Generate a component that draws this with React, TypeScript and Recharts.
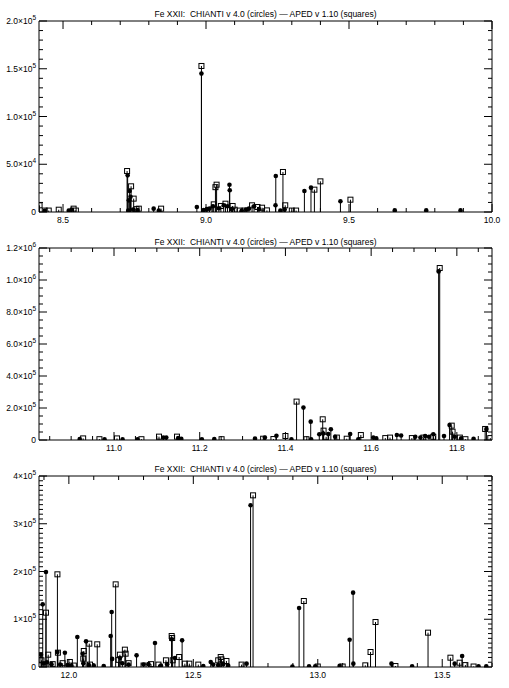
import React from 'react';
import { ScatterChart, Scatter, XAxis, YAxis, ErrorBar } from 'recharts';

const FONT = '"Liberation Sans", Arial, Helvetica, sans-serif';
const TITLE = 'Fe XXII:  CHIANTI v 4.0 (circles) — APED v 1.10 (squares)';

// ---------- Panel 1 (8.42 - 10.0 Å) ----------
const p1ChiantiWave = [8.436, 8.52, 8.53, 8.726, 8.728, 8.73, 8.733, 8.736, 8.745, 8.76, 8.817, 8.835, 8.968, 8.984, 8.992, 9.003, 9.012, 9.024, 9.045, 9.062, 9.075, 9.082, 9.083, 9.09, 9.125, 9.14, 9.15, 9.168, 9.185, 9.244, 9.243, 9.26, 9.275, 9.344, 9.367, 9.47, 9.66, 9.77, 9.89];
const p1ChiantiFlux = [1200, 1500, 2500, 38400, 1500, 12200, 22000, 16000, 2500, 2000, 3500, 1500, 5200, 144900, 2000, 3000, 3500, 6000, 4000, 7000, 6000, 28600, 22700, 3000, 1500, 2500, 3500, 6000, 3000, 37700, 7000, 1500, 2500, 22000, 25500, 11200, 1700, 1700, 1700];
const p1ApedWave = [8.418, 8.436, 8.45, 8.485, 8.537, 8.545, 8.724, 8.738, 8.747, 8.757, 8.765, 8.843, 8.984, 9.012, 9.027, 9.033, 9.037, 9.052, 9.068, 9.093, 9.1, 9.118, 9.135, 9.161, 9.18, 9.196, 9.213, 9.269, 9.277, 9.3, 9.315, 9.379, 9.4, 9.505];
const p1ApedFlux = [7000, 1500, 1500, 2400, 3500, 1500, 42900, 26900, 14000, 3000, 3500, 3500, 152900, 2000, 8000, 26000, 28600, 6300, 8700, 6300, 2400, 1500, 1500, 7000, 5200, 4500, 1700, 41900, 7000, 1500, 1500, 23400, 32100, 12900];
const p1XDomain = [8.416, 10.0];
const p1XMajor = [8.5, 9.0, 9.5, 10.0];
const p1XLabels = ['8.5', '9.0', '9.5', '10.0'];
const p1XTicks = [8.5, 8.6, 8.7, 8.8, 8.9, 9.0, 9.1, 9.2, 9.3, 9.4, 9.5, 9.6, 9.7, 9.8, 9.9, 10.0];
const p1YDomain = [0, 200000];
const p1YMajor = [0, 50000, 100000, 150000, 200000];
const p1YLabels = ['0', '5.0×10^4', '1.0×10^5', '1.5×10^5', '2.0×10^5'];
const p1YTicks = [0, 10000, 20000, 30000, 40000, 50000, 60000, 70000, 80000, 90000, 100000, 110000, 120000, 130000, 140000, 150000, 160000, 170000, 180000, 190000, 200000];

// ---------- Panel 2 (10.83 - 11.88 Å) ----------
const p2ChiantiWave = [10.92, 10.978, 11.02, 11.055, 11.115, 11.122, 11.15, 11.157, 11.205, 11.234, 11.329, 11.352, 11.379, 11.414, 11.442, 11.459, 11.46, 11.479, 11.488, 11.5, 11.506, 11.516, 11.551, 11.57, 11.605, 11.612, 11.66, 11.67, 11.703, 11.715, 11.726, 11.735, 11.745, 11.7575, 11.77, 11.783, 11.795, 11.81, 11.839, 11.869];
const p2ChiantiFlux = [6000, 5000, 5000, 4000, 15000, 15000, 12000, 8000, 4000, 6000, 9000, 15000, 27000, 5000, 202400, 114800, 4000, 35500, 40000, 37600, 66800, 20000, 37600, 5000, 15000, 10000, 31000, 28000, 20000, 15000, 25000, 20000, 35500, 1053900, 25000, 93900, 20000, 10000, 8000, 68900];
const p2ApedWave = [10.928, 10.966, 11.007, 11.064, 11.105, 11.147, 11.251, 11.348, 11.372, 11.4, 11.426, 11.449, 11.487, 11.489, 11.495, 11.52, 11.543, 11.576, 11.633, 11.644, 11.695, 11.722, 11.745, 11.76, 11.788, 11.79, 11.807, 11.82, 11.866, 11.878];
const p2ApedFlux = [10000, 5000, 10000, 5000, 21000, 21000, 5000, 8000, 6000, 25000, 240000, 5000, 129400, 58400, 20000, 15000, 8000, 31000, 12000, 15000, 12000, 15000, 20000, 1074800, 89700, 52000, 15000, 5000, 68900, 12000];
const p2XDomain = [10.825, 11.882];
const p2XMajor = [11.0, 11.2, 11.4, 11.6, 11.8];
const p2XLabels = ['11.0', '11.2', '11.4', '11.6', '11.8'];
const p2XTicks = [10.85, 10.9, 10.95, 11.0, 11.05, 11.1, 11.15, 11.2, 11.25, 11.3, 11.35, 11.4, 11.45, 11.5, 11.55, 11.6, 11.65, 11.7, 11.75, 11.8, 11.85];
const p2YDomain = [0, 1200000];
const p2YMajor = [0, 200000, 400000, 600000, 800000, 1000000, 1200000];
const p2YLabels = ['0', '2.0×10^5', '4.0×10^5', '6.0×10^5', '8.0×10^5', '1.0×10^6', '1.2×10^6'];
const p2YTicks = [0, 50000, 100000, 150000, 200000, 250000, 300000, 350000, 400000, 450000, 500000, 550000, 600000, 650000, 700000, 750000, 800000, 850000, 900000, 950000, 1000000, 1050000, 1100000, 1150000, 1200000];

// ---------- Panel 3 (11.88 - 13.70 Å) ----------
const p3ChiantiWave = [11.888, 11.895, 11.9, 11.908, 11.912, 11.93, 11.954, 11.965, 11.984, 11.995, 12.01, 12.034, 12.055, 12.058, 12.069, 12.08, 12.1, 12.14, 12.168, 12.172, 12.174, 12.205, 12.215, 12.24, 12.272, 12.3, 12.32, 12.346, 12.37, 12.395, 12.413, 12.426, 12.455, 12.54, 12.57, 12.58, 12.6, 12.62, 12.64, 12.714, 12.73, 12.898, 12.925, 12.965, 12.99, 13.088, 13.128, 13.142, 13.143, 13.296, 13.379, 13.55, 13.58, 13.646, 13.677];
const p3ChiantiFlux = [25800, 131200, 8000, 198900, 10000, 6000, 31400, 5000, 30000, 4000, 3000, 62800, 27900, 8000, 53700, 4000, 3000, 2000, 64900, 115200, 17000, 18800, 8000, 5000, 24400, 5000, 6000, 50300, 3000, 6000, 58000, 18800, 55800, 2000, 10500, 5000, 4000, 6000, 3000, 7000, 338600, 1000, 123600, 1500, 1500, 2500, 57200, 155700, 7000, 7000, 1500, 7000, 23000, 1500, 1500];
const p3ApedWave = [11.89, 11.908, 11.917, 11.935, 11.954, 11.956, 11.975, 12.004, 12.02, 12.06, 12.058, 12.082, 12.085, 12.114, 12.188, 12.2, 12.205, 12.225, 12.228, 12.24, 12.3, 12.33, 12.36, 12.39, 12.413, 12.415, 12.417, 12.443, 12.466, 12.484, 12.52, 12.6, 12.61, 12.613, 12.633, 12.694, 12.74, 12.944, 13.0, 13.1, 13.191, 13.212, 13.232, 13.312, 13.443, 13.533, 13.57, 13.593, 13.626];
const p3ApedFlux = [14000, 113800, 25800, 6000, 194100, 30000, 8000, 10500, 3000, 33500, 17500, 48900, 5000, 47500, 173100, 15000, 25800, 36300, 27900, 8000, 3000, 6000, 5000, 14000, 64900, 60700, 14000, 20900, 7000, 7000, 5000, 14000, 20900, 16000, 12600, 5000, 359500, 138200, 1000, 1000, 3500, 31400, 94200, 2000, 71900, 19500, 9000, 4000, 1000];
const p3XDomain = [11.88, 13.7];
const p3XMajor = [12.0, 12.5, 13.0, 13.5];
const p3XLabels = ['12.0', '12.5', '13.0', '13.5'];
const p3XTicks = [11.9, 12.0, 12.1, 12.2, 12.3, 12.4, 12.5, 12.6, 12.7, 12.8, 12.9, 13.0, 13.1, 13.2, 13.3, 13.4, 13.5, 13.6, 13.7];
const p3YDomain = [0, 400000];
const p3YMajor = [0, 100000, 200000, 300000, 400000];
const p3YLabels = ['0', '1×10^5', '2×10^5', '3×10^5', '4×10^5'];
const p3YTicks = [0, 10000, 20000, 30000, 40000, 50000, 60000, 70000, 80000, 90000, 100000, 110000, 120000, 130000, 140000, 150000, 160000, 170000, 180000, 190000, 200000, 210000, 220000, 230000, 240000, 250000, 260000, 270000, 280000, 290000, 300000, 310000, 320000, 330000, 340000, 350000, 360000, 370000, 380000, 390000, 400000];

const zip = (w: number[], v: number[]) => w.map((x, i) => ({ w: x, v: v[i] }));

const SquareMark = (props: any) => {
  const { cx, cy } = props;
  if (cx == null || cy == null) return <g />;
  return <rect x={cx - 2.5} y={cy - 2.5} width={5} height={5} fill="none" stroke="#000" strokeWidth={1} />;
};
const DotMark = (props: any) => {
  const { cx, cy } = props;
  if (cx == null || cy == null) return <g />;
  return <circle cx={cx} cy={cy} r={2.3} fill="#000" stroke="none" />;
};

const renderLabel = (s: string, x: number, y: number, anchor: string) => {
  const parts = s.split('^');
  return (
    <text x={x} y={y} textAnchor={anchor} fontSize={8.5} fontFamily={FONT} fill="#000">
      {parts[0]}
      {parts.length > 1 && (
        <tspan dy={-4} fontSize={6.5}>
          {parts[1]}
        </tspan>
      )}
    </text>
  );
};

const makeXTick = (majors: number[], labels: string[], side: 'bottom' | 'top') => (p: any) => {
  const { x, y, payload } = p;
  const i = majors.indexOf(payload.value);
  const len = i >= 0 ? 8 : 4;
  const dir = side === 'bottom' ? -1 : 1;
  return (
    <g>
      <line x1={x} x2={x} y1={y} y2={y + dir * len} stroke="#000" strokeWidth={1} />
      {side === 'bottom' && i >= 0 && renderLabel(labels[i], x, y + 11, 'middle')}
    </g>
  );
};

const makeYTick = (majors: number[], labels: string[], side: 'left' | 'right') => (p: any) => {
  const { x, y, payload } = p;
  const i = majors.indexOf(payload.value);
  const len = i >= 0 ? 8 : 4;
  const dir = side === 'left' ? 1 : -1;
  return (
    <g>
      <line x1={x} x2={x + dir * len} y1={y} y2={y} stroke="#000" strokeWidth={1} />
      {side === 'left' && i >= 0 && renderLabel(labels[i], x - 3, y + 3, 'end')}
    </g>
  );
};

type PanelProps = {
  top: number;
  height: number;
  mTop: number;
  mBottom: number;
  titleY: number;
  chianti: { w: number; v: number }[];
  aped: { w: number; v: number }[];
  xDomain: number[];
  xMajor: number[];
  xLabels: string[];
  xTicks: number[];
  yDomain: number[];
  yMajor: number[];
  yLabels: string[];
  yTicks: number[];
};

const Panel = (pp: PanelProps) => {
  const axisLine = { stroke: '#000', strokeWidth: 1 };
  return (
    <div style={{ position: 'absolute', left: 0, top: pp.top, width: 509, height: pp.height }}>
      <div
        style={{
          position: 'absolute',
          left: 39,
          width: 453,
          top: pp.titleY - 6,
          lineHeight: '11px',
          fontSize: 8.5,
          fontFamily: FONT,
          textAlign: 'center',
          whiteSpace: 'pre',
          color: '#000',
        }}
      >
        {TITLE}
      </div>
      <ScatterChart
        width={509}
        height={pp.height}
        margin={{ top: pp.mTop, bottom: pp.mBottom, left: 9, right: 7 }}
      >
        <XAxis
          xAxisId="b"
          dataKey="w"
          type="number"
          orientation="bottom"
          domain={pp.xDomain}
          allowDataOverflow
          ticks={pp.xTicks}
          interval={0}
          tickSize={0}
          tickMargin={0}
          tickLine={false}
          axisLine={axisLine}
          height={10}
          tick={makeXTick(pp.xMajor, pp.xLabels, 'bottom')}
        />
        <XAxis
          xAxisId="t"
          dataKey="w"
          type="number"
          orientation="top"
          domain={pp.xDomain}
          allowDataOverflow
          ticks={pp.xTicks}
          interval={0}
          tickSize={0}
          tickMargin={0}
          tickLine={false}
          axisLine={axisLine}
          height={5}
          tick={makeXTick(pp.xMajor, pp.xLabels, 'top')}
        />
        <YAxis
          yAxisId="l"
          dataKey="v"
          type="number"
          orientation="left"
          domain={pp.yDomain}
          allowDataOverflow
          ticks={pp.yTicks}
          interval={0}
          tickSize={0}
          tickMargin={0}
          tickLine={false}
          axisLine={axisLine}
          width={30}
          tick={makeYTick(pp.yMajor, pp.yLabels, 'left')}
        />
        <YAxis
          yAxisId="r"
          dataKey="v"
          type="number"
          orientation="right"
          domain={pp.yDomain}
          allowDataOverflow
          ticks={pp.yTicks}
          interval={0}
          tickSize={0}
          tickMargin={0}
          tickLine={false}
          axisLine={axisLine}
          width={10}
          tick={makeYTick(pp.yMajor, pp.yLabels, 'right')}
        />
        <Scatter
          name="APED v 1.10"
          data={pp.aped}
          xAxisId="b"
          yAxisId="l"
          isAnimationActive={false}
          shape={SquareMark}
        >
          <ErrorBar
            dataKey={(d: any) => [d.v, 0]}
            direction="y"
            width={0}
            stroke="#000"
            strokeWidth={1}
            isAnimationActive={false}
          />
        </Scatter>
        <Scatter
          name="CHIANTI v 4.0"
          data={pp.chianti}
          xAxisId="b"
          yAxisId="l"
          isAnimationActive={false}
          shape={DotMark}
        >
          <ErrorBar
            dataKey={(d: any) => [d.v, 0]}
            direction="y"
            width={0}
            stroke="#000"
            strokeWidth={1}
            isAnimationActive={false}
          />
        </Scatter>
        {/* keep the mirror axes bound to data */}
        <Scatter data={[]} xAxisId="t" yAxisId="r" isAnimationActive={false} />
      </ScatterChart>
    </div>
  );
}

export default function App() {
  return (
    <div style={{ position: 'absolute', left: 0, top: 0, width: 509, height: 688, background: '#fff' }}>
      <Panel
        top={0}
        height={229}
        mTop={16}
        mBottom={7}
        titleY={15}
        chianti={zip(p1ChiantiWave, p1ChiantiFlux)}
        aped={zip(p1ApedWave, p1ApedFlux)}
        xDomain={p1XDomain}
        xMajor={p1XMajor}
        xLabels={p1XLabels}
        xTicks={p1XTicks}
        yDomain={p1YDomain}
        yMajor={p1YMajor}
        yLabels={p1YLabels}
        yTicks={p1YTicks}
      />
      <Panel
        top={229}
        height={229}
        mTop={14}
        mBottom={8}
        titleY={14}
        chianti={zip(p2ChiantiWave, p2ChiantiFlux)}
        aped={zip(p2ApedWave, p2ApedFlux)}
        xDomain={p2XDomain}
        xMajor={p2XMajor}
        xLabels={p2XLabels}
        xTicks={p2XTicks}
        yDomain={p2YDomain}
        yMajor={p2YMajor}
        yLabels={p2YLabels}
        yTicks={p2YTicks}
      />
      <Panel
        top={458}
        height={230}
        mTop={13}
        mBottom={11}
        titleY={12}
        chianti={zip(p3ChiantiWave, p3ChiantiFlux)}
        aped={zip(p3ApedWave, p3ApedFlux)}
        xDomain={p3XDomain}
        xMajor={p3XMajor}
        xLabels={p3XLabels}
        xTicks={p3XTicks}
        yDomain={p3YDomain}
        yMajor={p3YMajor}
        yLabels={p3YLabels}
        yTicks={p3YTicks}
      />
    </div>
  );
}
